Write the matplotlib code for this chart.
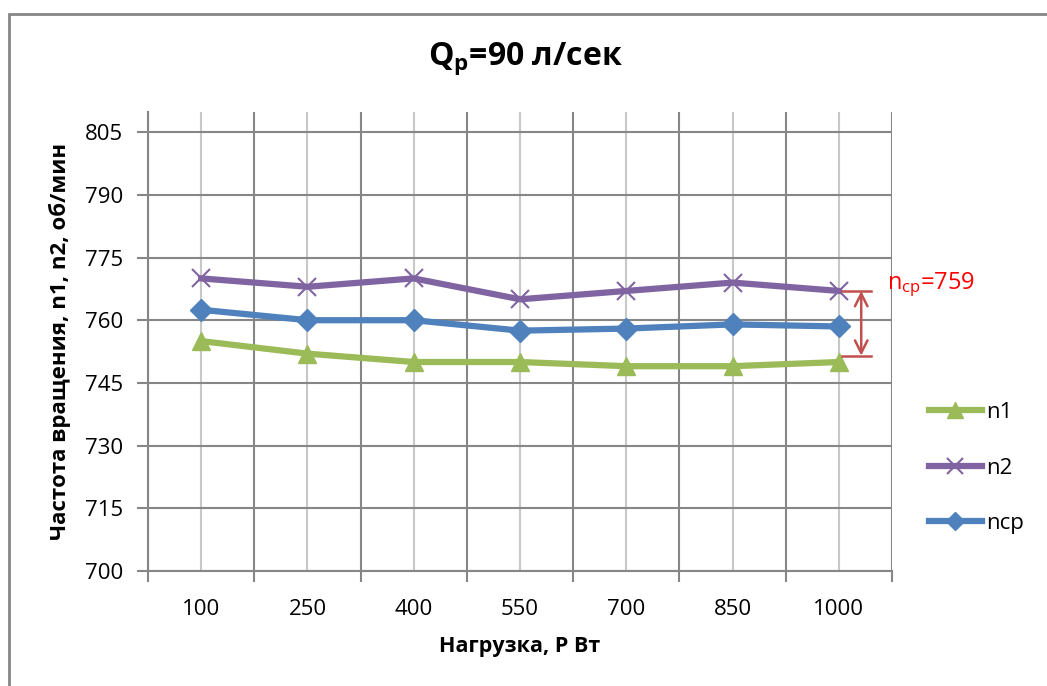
import matplotlib.pyplot as plt
from matplotlib.patches import Rectangle

plt.rcParams['font.family'] = ['Open Sans', 'DejaVu Sans']
plt.rcParams['mathtext.fontset'] = 'custom'
plt.rcParams['mathtext.rm'] = 'Open Sans'
plt.rcParams['mathtext.it'] = 'Open Sans'
plt.rcParams['mathtext.bf'] = 'Open Sans:bold'
plt.rcParams['mathtext.default'] = 'regular'

# Load, W
loads = ['100', '250', '400', '550', '700', '850', '1000']
# Rotation speed, rpm
n1 = [755, 752, 750, 750, 749, 749, 750]
n2 = [770, 768, 770, 765, 767, 769, 767]
ncp = [762.5, 760, 760, 757.5, 758, 759, 758.5]
yticks = [700, 715, 730, 745, 760, 775, 790, 805]
ncp_mean = 759
band = (767, 751.5)

green = '#9BBB59'
purple = '#8064A2'
blue = '#4F81BD'
red_arrow = '#C0504D'
dark_grid = '#868686'
light_grid = '#C8C8C8'

fig = plt.figure(figsize=(10.47, 6.86), dpi=100)
ax = fig.add_axes([0.1414, 0.1676, 0.852 - 0.1414, 0.8367 - 0.1676])

x = list(range(len(loads)))
ax.plot(x, n1, color=green, lw=4.5, marker='^', ms=13, mec=green, mfc=green, label='n1', zorder=3)
ax.plot(x, n2, color=purple, lw=4.5, marker='x', ms=13, mew=1.5, mec=purple, label='n2', zorder=3)
ax.plot(x, ncp, color=blue, lw=4.5, marker='D', ms=11, mec=blue, mfc=blue, label='nср', zorder=4)

ax.set_xlim(-0.5, len(loads) - 0.5)
ax.set_ylim(700, 809.8)
ax.set_xticks(x)
ax.set_xticklabels(loads)
ax.set_xticks([i - 0.5 for i in range(len(loads) + 1)], minor=True)
ax.set_yticks(yticks)

ax.tick_params(axis='x', which='major', length=0, pad=20, labelsize=16)
ax.tick_params(axis='x', which='minor', length=8, color=dark_grid, width=1.5)
ax.tick_params(axis='y', length=8, color=dark_grid, width=1.5, pad=10, labelsize=16)

ax.grid(True, axis='x', which='major', color=light_grid, lw=1.5)
ax.grid(True, axis='x', which='minor', color=dark_grid, lw=1.5)
ax.grid(True, axis='y', which='major', color=dark_grid, lw=1.5)
ax.set_axisbelow(True)

for side in ['top', 'right']:
    ax.spines[side].set_visible(False)
for side in ['left', 'bottom']:
    ax.spines[side].set_color(dark_grid)
    ax.spines[side].set_linewidth(1.5)

ax.set_xlabel('Нагрузка, Р Вт', fontsize=15.5, fontweight='bold', labelpad=12)
ax.set_ylabel('Частота вращения, n1, n2, об/мин', fontsize=16, fontweight='bold', labelpad=10)

fig.text(0.5015, 0.915, r'Q$_{\mathbf{р}}$=90 л/сек', fontsize=23, fontweight='bold',
         ha='center', va='center')

# spread between n1 and n2 at the last point
ax.annotate('', xy=(6.21, band[1]), xytext=(6.21, band[0]),
            arrowprops=dict(arrowstyle='<->,head_length=0.9,head_width=0.45',
                            color=red_arrow, lw=1.8, shrinkA=0, shrinkB=0),
            annotation_clip=False)
for yv in band:
    ax.plot([6.03, 6.30], [yv, yv], color=red_arrow, lw=1.8, clip_on=False, zorder=5)
ax.text(6.45, 768.6, r'n$_{ср}$=' + str(ncp_mean), color='red', fontsize=17,
        ha='left', va='center', clip_on=False)

fig.legend(loc='center left', bbox_to_anchor=(0.868, 0.3175), frameon=False, fontsize=16,
           labelspacing=1.55, handlelength=2.4, handletextpad=0.2, markerscale=0.85)

fig.add_artist(Rectangle((0.0086, -0.2), 1.5, 0.9796 + 0.2, transform=fig.transFigure,
                         fill=False, edgecolor=dark_grid, lw=2))

fig.savefig('out.png', dpi=100)
